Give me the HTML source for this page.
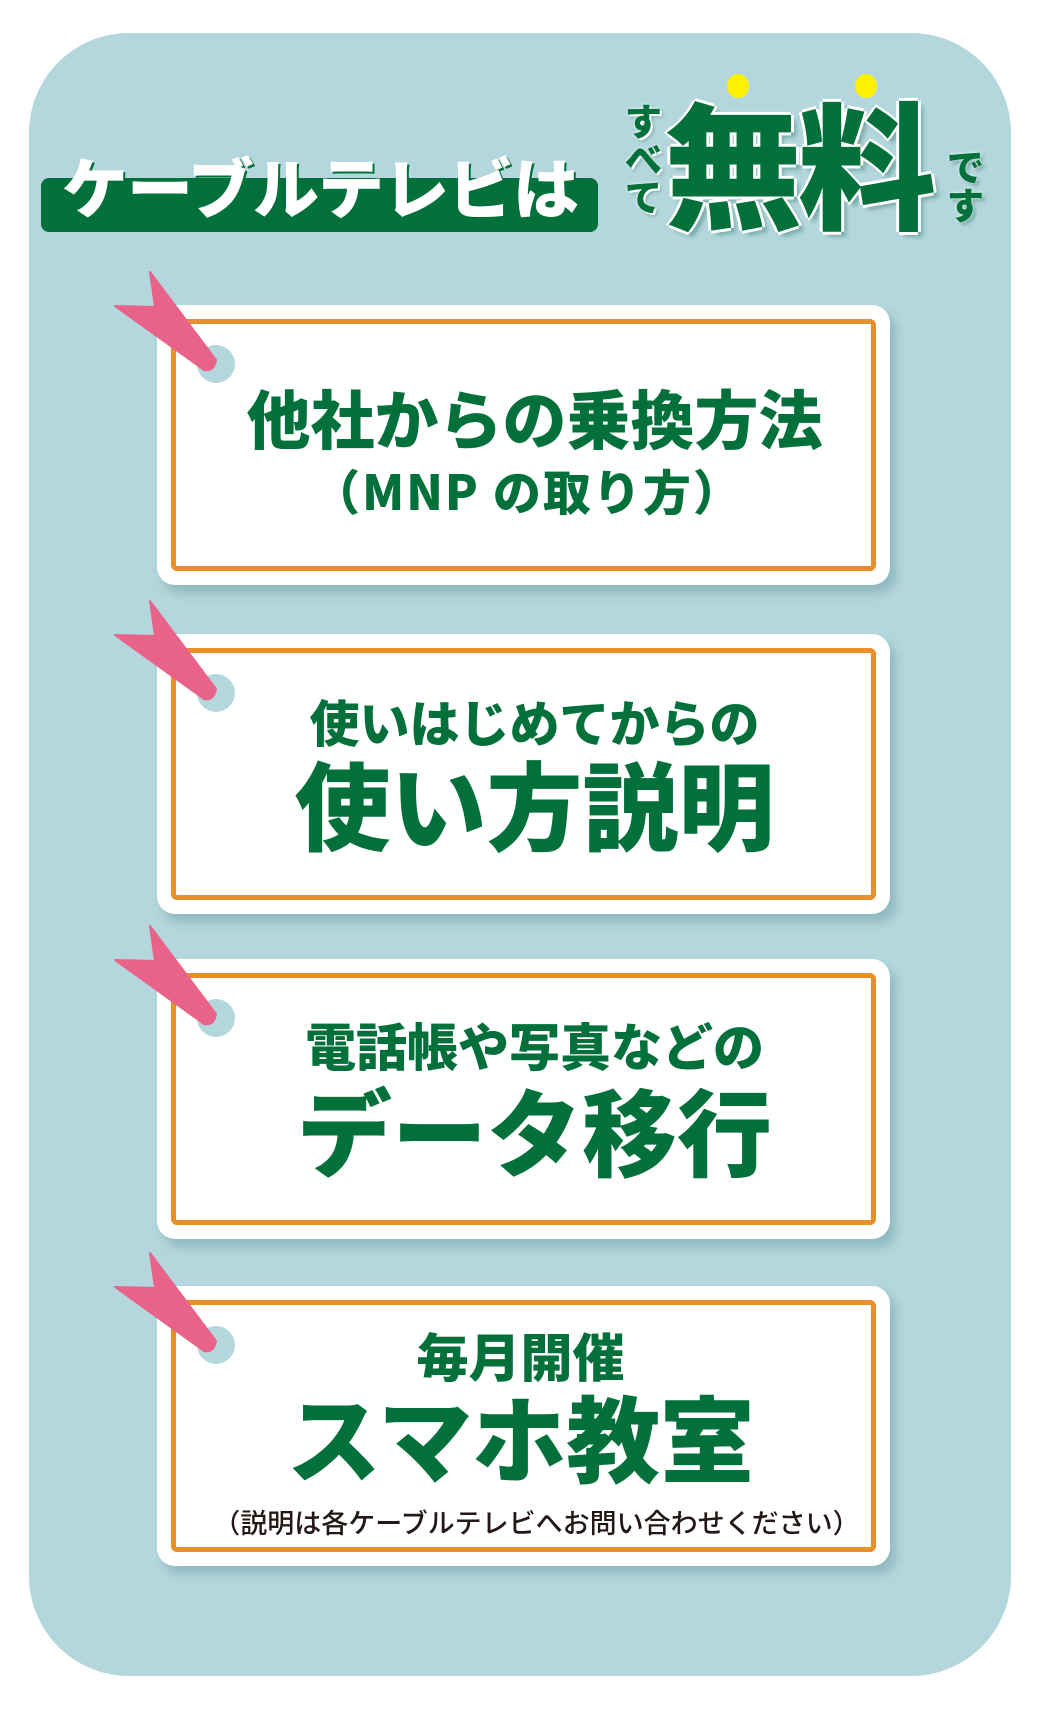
<!DOCTYPE html>
<html><head><meta charset="utf-8"><style>
body{margin:0;width:1044px;height:1714px;background:#fff;position:relative;overflow:hidden;font-family:"Liberation Sans","Noto Sans CJK JP",sans-serif;}
.panel{position:absolute;left:29px;top:33px;width:982px;height:1643px;background:#b3d7dc;border-radius:100px;}
.card{position:absolute;left:157px;width:733px;height:280px;background:#fff;border-radius:18px;box-shadow:6px 8px 10px rgba(80,130,140,.35);}
.inner{position:absolute;left:14px;top:14px;right:14px;bottom:14px;border:5px solid #e88f2a;border-radius:6px;}
.t{position:absolute;left:11px;width:100%;text-align:center;color:#02703a;font-weight:900;font-family:"Noto Sans CJK JP",sans-serif;white-space:nowrap;line-height:1;}
.hole{position:absolute;left:40px;top:40px;width:38px;height:38px;border-radius:50%;background:#b3d7dc;}
svg{position:absolute;left:0;top:0;}
.hd{position:absolute;font-family:"Noto Sans CJK JP",sans-serif;font-weight:900;line-height:1;white-space:nowrap;}
</style></head><body>
<div class="panel"></div>
<div style="position:absolute;left:41px;top:178px;width:557px;height:54px;background:#02703a;border-radius:8px;"></div>
<div class="hd" style="left:62px;top:152px;font-size:66px;color:#fff;letter-spacing:-1px;text-shadow:2px 2px 0 #02703a;">ケーブルテレビは</div>
<div style="position:absolute;left:727px;top:74px;width:22px;height:24px;border-radius:50%;background:#fff200;"></div>
<div style="position:absolute;left:855px;top:74px;width:22px;height:24px;border-radius:50%;background:#fff200;"></div>
<div class="hd" style="left:620px;top:102px;width:42px;font-size:38px;color:#02703a;writing-mode:vertical-rl;text-shadow:0 0 3px #fff,2px 2px 0 #fff,3px 3px 3px #7aa;">すべて</div>
<div class="hd" style="left:664px;top:90px;font-size:138px;color:#02703a;letter-spacing:-4px;text-shadow:3px 0 0 #fff,-3px 0 0 #fff,0 3px 0 #fff,0 -3px 0 #fff,5px 5px 4px #7aa;">無料</div>
<div class="hd" style="left:942px;top:148px;width:42px;font-size:38px;color:#02703a;writing-mode:vertical-rl;text-shadow:0 0 3px #fff,3px 3px 3px #7aa;">です</div>

<div class="card" style="top:305px;"><div class="inner"></div><div class="hole"></div>
<div class="t" style="top:80px;font-size:64px;">他社からの乗換方法</div>
<div class="t" style="top:160px;font-size:48px;letter-spacing:2px;left:4px;">（MNP の取り方）</div></div>

<div class="card" style="top:634px;"><div class="inner"></div><div class="hole"></div>
<div class="t" style="top:62px;font-size:50px;">使いはじめてからの</div>
<div class="t" style="top:120px;font-size:96px;">使い方説明</div></div>

<div class="card" style="top:959px;"><div class="inner"></div><div class="hole"></div>
<div class="t" style="top:60px;font-size:51px;">電話帳や写真などの</div>
<div class="t" style="top:122px;font-size:95px;">データ移行</div></div>

<div class="card" style="top:1286px;"><div class="inner"></div><div class="hole"></div>
<div class="t" style="top:43px;font-size:52px;left:-3px;">毎月開催</div>
<div class="t" style="top:102px;font-size:94px;left:-3px;">スマホ教室</div>
<div class="t" style="top:222px;font-size:27px;color:#231815;font-weight:500;left:13px;">（説明は各ケーブルテレビへお問い合わせください）</div></div>

<svg width="1044" height="1714">
<g fill="#e8628a" stroke="#e8628a" stroke-linejoin="round" stroke-width="2">
<path d="M150 272 L155 307 L115 306 L204 370 Q214 372 216 360 Z"/>
<path d="M150 601 L155 636 L115 635 L204 699 Q214 701 216 689 Z"/>
<path d="M150 926 L155 961 L115 960 L204 1024 Q214 1026 216 1014 Z"/>
<path d="M150 1253 L155 1288 L115 1287 L204 1351 Q214 1353 216 1341 Z"/>
</g></svg>
</body></html>
